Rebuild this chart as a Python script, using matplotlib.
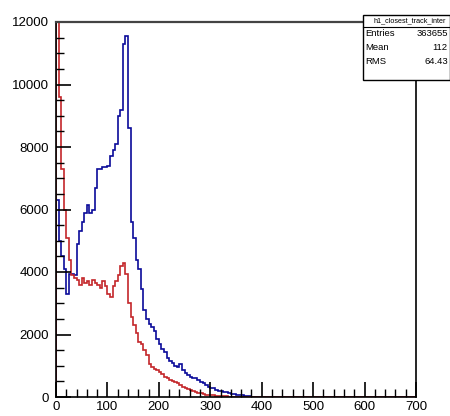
import numpy as np
import matplotlib
matplotlib.use("Agg")
import matplotlib.pyplot as plt
from matplotlib.ticker import MultipleLocator

bin_width = 5
x_max = 700

blue_counts = [6300, 5000, 4500, 4100, 3300, 3950, 3950, 3900, 4900, 5300,
               5600, 5900, 6150, 5900, 6000, 6700, 7300, 7300, 7350, 7350,
               7400, 7700, 7900, 8100, 9000, 9200, 11300, 11550, 8600, 5600,
               5100, 4400, 4100, 3450, 2800, 2500, 2350, 2250, 2100, 1850,
               1700, 1550, 1450, 1250, 1150, 1100, 1000, 950, 1050, 850,
               780, 720, 650, 620, 600, 540, 480, 450, 400, 330,
               300, 280, 240, 200, 180, 160, 150, 120, 100, 90,
               70, 60, 50, 40, 30, 20, 15, 10, 5, 3]

red_counts = [30000, 9600, 7300, 6000, 5100, 4400, 3900, 3800, 3750, 3600,
              3800, 3650, 3700, 3600, 3750, 3650, 3600, 3500, 3700, 3550,
              3300, 3200, 3550, 3700, 3900, 4200, 4300, 3950, 3000, 2550,
              2300, 2050, 1750, 1700, 1500, 1350, 1050, 950, 900, 850,
              800, 750, 640, 620, 560, 500, 470, 440, 400, 330,
              290, 260, 230, 200, 160, 140, 120, 100, 80, 70,
              60, 50, 40, 35, 30, 25, 20, 15, 12, 10,
              8, 6, 4, 3, 2, 1, 0, 0, 0, 0]

stat_title = "h1_closest_track_inter"
stat_entries = "363655"
stat_mean = "112"
stat_rms = "64.43"

nbins = x_max // bin_width
edges = np.arange(0, x_max + bin_width, bin_width)
blue = np.zeros(nbins); blue[:len(blue_counts)] = blue_counts
red = np.zeros(nbins); red[:len(red_counts)] = red_counts

plt.rcParams['font.family'] = ['Liberation Sans', 'DejaVu Sans']
fig = plt.figure(figsize=(4.5, 4.16), dpi=100)
ax = fig.add_axes([56/450, 1-397/416, 360/450, 375/416])

ax.stairs(blue, edges, color='#0a0a9a', lw=1.2, baseline=0)
ax.stairs(red, edges, color='#c4262a', lw=1.2, baseline=0)

ax.set_xlim(0, 700)
ax.set_ylim(0, 12000)
ax.xaxis.set_major_locator(MultipleLocator(100))
ax.xaxis.set_minor_locator(MultipleLocator(20))
ax.yaxis.set_major_locator(MultipleLocator(2000))
ax.yaxis.set_minor_locator(MultipleLocator(500))
ax.tick_params(which='both', direction='in', colors='black')
ax.tick_params(which='major', length=11, width=1.2, labelsize=9.5)
ax.tick_params(which='minor', length=6, width=1.0)
ax.tick_params(axis='x', which='major', pad=3)
ax.tick_params(axis='y', which='major', pad=5)
for s in ax.spines.values():
    s.set_linewidth(1.2)
ax.spines['top'].set_color('#444444')
ax.spines['top'].set_linewidth(1.6)

# stats box
bx0, by0, bx1, by1 = 363/450, 1-80/416, 1.0, 1-15/416
box = plt.Rectangle((bx0, by0), bx1-bx0, by1-by0, transform=fig.transFigure,
                    facecolor='white', edgecolor='black', lw=1.0, zorder=5)
fig.add_artist(box)
fig.add_artist(plt.Line2D([bx0, bx1], [1-27/416]*2, transform=fig.transFigure,
                          color='black', lw=0.8, zorder=6))
fig.text((bx0+bx1)/2+0.008, 1-21/416, stat_title, fontsize=5.2, va='center', ha='center', zorder=7)
rows = [("Entries", stat_entries, 34), ("Mean", stat_mean, 47.5), ("RMS", stat_rms, 61)]
for lab, val, yy in rows:
    fig.text(bx0+0.006, 1-yy/416, lab, fontsize=6.8, va='center', ha='left', zorder=7)
    fig.text(0.995, 1-yy/416, val, fontsize=6.8, va='center', ha='right', zorder=7)

fig.savefig("out.png", dpi=100)
